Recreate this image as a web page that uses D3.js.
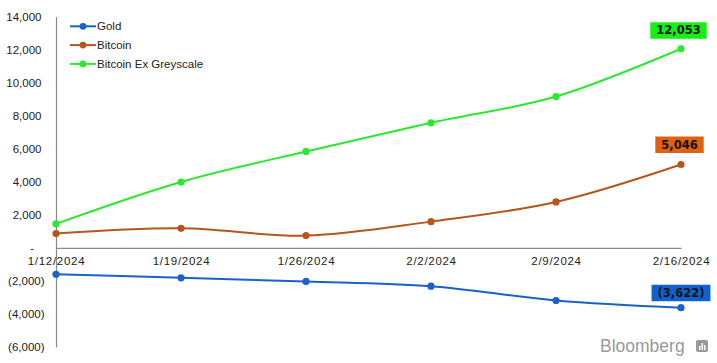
<!DOCTYPE html>
<html>
<head>
<meta charset="utf-8">
<script src="https://cdn.jsdelivr.net/npm/d3@7"></script>
<style>
  html, body { margin: 0; padding: 0; background: #fff; }
  svg { display: block; font-family: "Liberation Sans", Arial, sans-serif; }
</style>
</head>
<body>
<svg id="chart" width="717" height="363"></svg>
<script>
const dates = ["1/12/2024", "1/19/2024", "1/26/2024", "2/2/2024", "2/9/2024", "2/16/2024"];
const gold = [-1595, -1813, -2030, -2320, -3184, -3622];
const bitcoin = [864, 1184, 743, 1589, 2779, 5046];
const bitcoinExGreyscale = [1450, 3988, 5837, 7571, 9160, 12053];
const yTicks = [-6000, -4000, -2000, 0, 2000, 4000, 6000, 8000, 10000, 12000, 14000];
const seriesNames = ["Gold", "Bitcoin", "Bitcoin Ex Greyscale"];
const seriesColors = ["#1a62c8", "#b5561b", "#2ce82c"];
const boxColors = ["#0f62cc", "#e0620f", "#14f014"];

const series = [gold, bitcoin, bitcoinExGreyscale].map((v, i) => ({
  name: seriesNames[i], values: v, color: seriesColors[i], box: boxColors[i]
}));

const svg = d3.select("#chart");
const x = d3.scalePoint().domain(dates).range([56, 681]);
const y = d3.scaleLinear().domain([-6000, 14000]).range([347, 16.6]);

const fmtNum = d3.format(",");
const fmt = v => v === 0 ? "-" : (v < 0 ? "(" + fmtNum(-v) + ")" : fmtNum(v));

// Y axis
const yAxis = svg.append("g").attr("transform", "translate(56,0)")
  .call(d3.axisLeft(y).tickValues(yTicks).tickSize(0).tickPadding(14).tickFormat(fmt));
yAxis.select(".domain").attr("stroke", "#8a8a8a").attr("stroke-width", 1.2);
yAxis.selectAll("text")
  .attr("font-family", "Liberation Sans, Arial, sans-serif")
  .attr("font-size", "11.5px").attr("fill", "#222")
  .attr("x", d => d < 0 ? -11.5 : (d === 0 ? -22 : -14.5));

// X axis at zero
const xAxis = svg.append("g").attr("transform", `translate(0,${y(0)})`)
  .call(d3.axisBottom(x).tickSize(0).tickPadding(9));
xAxis.select(".domain").attr("stroke", "#8a8a8a").attr("stroke-width", 1.2);
xAxis.selectAll("text")
  .attr("font-family", "Liberation Sans, Arial, sans-serif")
  .attr("font-size", "11.5px").attr("fill", "#222")
  .attr("letter-spacing", "0.7px");

// Lines
const line = d3.line()
  .x((d, i) => x(dates[i]))
  .y(d => y(d))
  .curve(d3.curveCatmullRom.alpha(0.5));

series.forEach(s => {
  svg.append("path").datum(s.values)
    .attr("d", line).attr("fill", "none")
    .attr("stroke", s.color).attr("stroke-width", 2);
  svg.append("g").selectAll("circle").data(s.values).join("circle")
    .attr("cx", (d, i) => x(dates[i])).attr("cy", d => y(d))
    .attr("r", 3.6).attr("fill", s.color);
});

// End labels
series.forEach((s, i) => {
  const v = s.values[s.values.length - 1];
  const py = y(v);
  const g = svg.append("g");
  const t = g.append("text")
    .attr("font-family", "DejaVu Sans, Verdana, sans-serif")
    .attr("font-weight", "bold").attr("font-size", "11.5px")
    .attr("fill", "#111").attr("text-anchor", "middle")
    .text(fmt(v));
  const bb = t.node().getBBox();
  const w = bb.width + 12, h = 16.5;
  const cx = i === 0 ? 681 : (i === 1 ? 679.5 : 678.5);
  const bottom = i === 0 ? py - 6.5 : (i === 1 ? py - 11.5 : py - 10);
  g.insert("rect", "text")
    .attr("x", cx - w / 2).attr("y", bottom - h)
    .attr("width", w).attr("height", h).attr("fill", s.box);
  t.attr("x", cx).attr("y", bottom - 4.3);
});

// Legend
const legend = svg.append("g");
series.forEach((s, i) => {
  const ly = 26.3 + i * 18.8;
  legend.append("line").attr("x1", 70).attr("x2", 96).attr("y1", ly).attr("y2", ly)
    .attr("stroke", s.color).attr("stroke-width", 2);
  legend.append("circle").attr("cx", 83).attr("cy", ly).attr("r", 3.4).attr("fill", s.color);
  legend.append("text").attr("x", 97).attr("y", ly + 4)
    .attr("font-size", "11.5px").attr("fill", "#222").text(s.name);
});

// Bloomberg mark
svg.append("text").attr("x", 600).attr("y", 352)
  .attr("font-family", "Liberation Sans, Arial, sans-serif")
  .attr("font-size", "17.5px").attr("fill", "#999").text("Bloomberg");
const logo = svg.append("g").attr("transform", "translate(696,340)");
logo.append("rect").attr("width", 12).attr("height", 12).attr("rx", 2).attr("fill", "#999");
[[3, 6, 1.5, 4], [5.5, 3, 1.5, 7], [8, 5, 1.5, 5]].forEach(b => {
  logo.append("rect").attr("x", b[0]).attr("y", b[1]).attr("width", b[2]).attr("height", b[3]).attr("fill", "#fff");
});
</script>
</body>
</html>
